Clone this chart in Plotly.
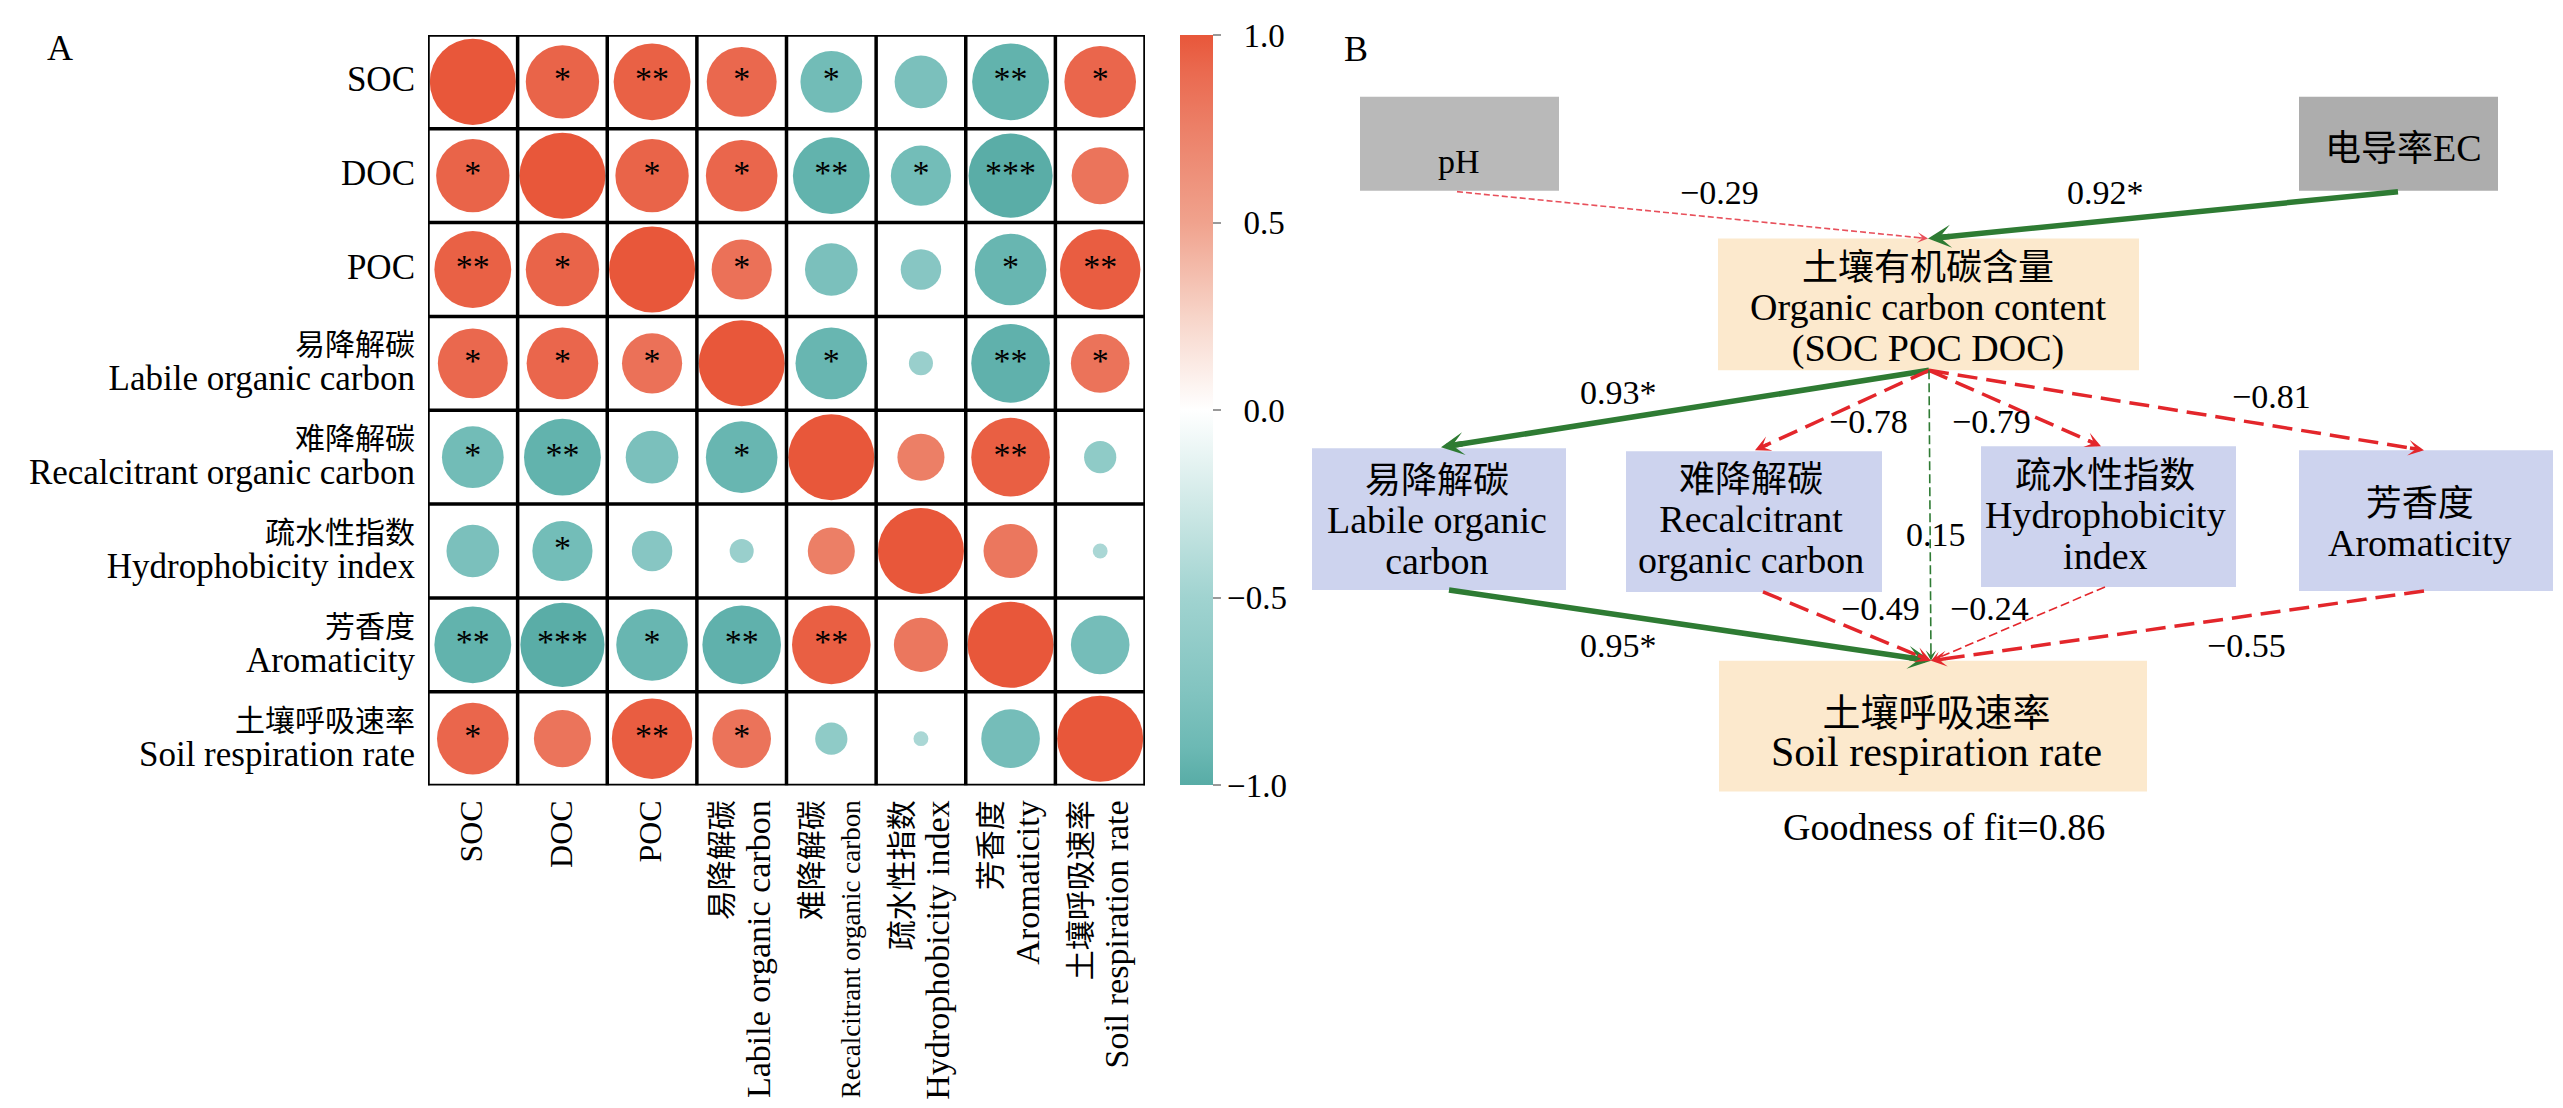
import plotly.graph_objects as go

# ---------------- data: correlation matrix (panel A) ----------------
var_cn = ["", "", "", "易降解碳", "难降解碳", "疏水性指数", "芳香度", "土壤呼吸速率"]
var_en = ["SOC", "DOC", "POC", "Labile organic carbon", "Recalcitrant organic carbon",
          "Hydrophobicity index", "Aromaticity", "Soil respiration rate"]

corr_soc = [1.00, 0.93, 0.95, 0.91, -0.86, -0.80, -0.95, 0.92]
corr_doc = [0.93, 1.00, 0.93, 0.92, -0.95, -0.85, -0.99, 0.83]
corr_poc = [0.95, 0.93, 1.00, 0.85, -0.80, -0.71, -0.92, 0.97]
corr_loc = [0.91, 0.92, 0.85, 1.00, -0.92, -0.56, -0.96, 0.84]
corr_roc = [-0.86, -0.95, -0.80, -0.92, 1.00, 0.76, 0.96, -0.64]
corr_hi = [-0.80, -0.85, -0.71, -0.56, 0.76, 1.00, 0.81, -0.45]
corr_ar = [-0.95, -0.99, -0.92, -0.96, 0.96, 0.81, 1.00, -0.84]
corr_sr = [0.92, 0.83, 0.97, 0.84, -0.64, -0.45, -0.84, 1.00]

sig_soc = ["", "*", "**", "*", "*", "", "**", "*"]
sig_doc = ["*", "", "*", "*", "**", "*", "***", ""]
sig_poc = ["**", "*", "", "*", "", "", "*", "**"]
sig_loc = ["*", "*", "*", "", "*", "", "**", "*"]
sig_roc = ["*", "**", "", "*", "", "", "**", ""]
sig_hi = ["", "*", "", "", "", "", "", ""]
sig_ar = ["**", "***", "*", "**", "**", "", "", ""]
sig_sr = ["*", "", "**", "*", "", "", "", ""]

corr_rows = [corr_soc, corr_doc, corr_poc, corr_loc, corr_roc, corr_hi, corr_ar, corr_sr]
sig_rows = [sig_soc, sig_doc, sig_poc, sig_loc, sig_roc, sig_hi, sig_ar, sig_sr]

cbar_ticks = [-1.0, -0.5, 0.0, 0.5, 1.0]

# ---------------- data: path model (panel B) ----------------
path_from = ["pH", "EC", "OCC", "OCC", "OCC", "OCC", "OCC", "LOC", "ROC", "HI", "AR"]
path_to = ["OCC", "OCC", "LOC", "ROC", "HI", "AR", "SR", "SR", "SR", "SR", "SR"]
path_coef = [-0.29, 0.92, 0.93, -0.78, -0.79, -0.81, 0.15, 0.95, -0.49, -0.24, -0.55]
path_sig = ["", "*", "*", "", "", "", "", "*", "", "", ""]
goodness_of_fit = 0.86

# ---------------- layout helpers (reference pixel frame) ----------------
W, H, OFF = 2547, 1092, 8


def fx(X):
    return (X - OFF) / W


def fy(Y):
    return 1 - (Y - OFF) / H


FONT = "Liberation Serif, Noto Sans CJK SC, serif"
GRID_X0, GRID_X1, GRID_Y0, GRID_Y1 = 428, 1145, 35, 787
n = len(var_en)
cell_px = (GRID_X1 - GRID_X0) / n
max_d = 0.96 * cell_px
SIZE_EXP = 2.2

colorscale = [
    [0.0, "rgb(88,172,166)"], [0.05, "rgb(108,185,180)"], [0.125, "rgb(130,196,192)"],
    [0.25, "rgb(160,211,208)"], [0.375, "rgb(208,233,231)"], [0.5, "rgb(255,255,255)"],
    [0.625, "rgb(247,212,200)"], [0.75, "rgb(240,162,141)"], [0.875, "rgb(236,128,104)"],
    [0.95, "rgb(234,106,80)"], [1.0, "rgb(232,87,58)"],
]

fig = go.Figure()

xs, ys, rs, sizes, texts = [], [], [], [], []
for i, row in enumerate(corr_rows):
    for j, r in enumerate(row):
        xs.append(j)
        ys.append(i)
        rs.append(r)
        sizes.append(max_d * abs(r) ** SIZE_EXP)
        texts.append(sig_rows[i][j])

fig.add_trace(go.Scatter(
    x=xs, y=ys, mode="markers", xaxis="x", yaxis="y",
    marker=dict(size=sizes, color=rs, colorscale=colorscale, cmin=-1, cmax=1,
                line=dict(width=0), opacity=1,
                colorbar=dict(
                    x=fx(1180), xanchor="left", y=fy((GRID_Y0 + GRID_Y1) / 2), yanchor="middle",
                    len=GRID_Y1 - GRID_Y0 - 2, lenmode="pixels", thickness=33, thicknessmode="pixels",
                    xpad=0, ypad=0, outlinewidth=0,
                    tickvals=cbar_ticks,
                    ticktext=[("\u2212" if v < 0 else "\u2007") + f"{abs(v):.1f}" for v in cbar_ticks],
                    ticks="outside", ticklen=8, tickcolor="#999999", tickwidth=1.5,
                    tickfont=dict(family=FONT, size=33, color="black"))),
    hoverinfo="skip", showlegend=False))

fig.add_trace(go.Scatter(
    x=xs, y=ys, mode="text", text=texts, xaxis="x", yaxis="y",
    textposition="middle center", textfont=dict(family=FONT, size=34, color="black"),
    hoverinfo="skip", showlegend=False))

for k in range(n + 1):
    fig.add_shape(type="line", xref="x", yref="y", x0=k - 0.5, x1=k - 0.5, y0=-0.5, y1=n - 0.5,
                  line=dict(color="black", width=3.5))
    fig.add_shape(type="line", xref="x", yref="y", x0=-0.5, x1=n - 0.5, y0=k - 0.5, y1=k - 0.5,
                  line=dict(color="black", width=3.5))


def sp(txt, size):
    return f"<span style='font-size:{size}px'>{txt}</span>"


def ylab(cn, en):
    if cn:
        return sp(cn, 30) + "<br>" + sp(en, 35)
    return sp(en, 35)


def xlab(cn, en):
    en_size = 27 if len(en) > 22 else 34
    if cn:
        return sp(cn, 30) + "<br>" + sp(en, en_size)
    return sp(en, 32)


# ---------------- panel B ----------------
GREEN = "#2E7B33"
RED = "#E3262B"

NODES = {
    "pH": dict(box=(1360, 1559, 97, 191), fill="#B9B9B9", out=(1457, 192)),
    "EC": dict(box=(2299, 2498, 97, 191), fill="#ADADAD", out=(2398, 192)),
    "OCC": dict(box=(1718, 2139, 239, 371), fill="#FCE9CD", inn=(1928, 239), out=(1929, 371)),
    "LOC": dict(box=(1312, 1566, 449, 591), fill="#CDD3EE", inn=(1441, 448), out=(1449, 591)),
    "ROC": dict(box=(1626, 1882, 452, 593), fill="#CDD3EE", inn=(1755, 451), out=(1763, 593)),
    "HI": dict(box=(1981, 2236, 447, 588), fill="#CDD3EE", inn=(2101, 447), out=(2105, 588)),
    "AR": dict(box=(2299, 2553, 451, 592), fill="#CDD3EE", inn=(2424, 451), out=(2424, 592)),
    "SR": dict(box=(1719, 2147, 662, 793), fill="#FCE9CD", inn=(1931, 662)),
}
# (center x, center y, line-spacing base size, [(text, size), ...])
NODE_TEXT = {
    "pH": (1459, 162, 34, [("pH", 34)]),
    "EC": (2403, 148, 36, [(sp("电导率", 36) + sp("EC", 38), 36)]),
    "OCC": (1928, 310, 31, [("土壤有机碳含量", 36), ("Organic carbon content", 38),
                            ("(SOC POC DOC)", 38)]),
    "LOC": (1437, 522, 31, [("易降解碳", 36), ("Labile organic", 38), ("carbon", 38)]),
    "ROC": (1751, 521, 31, [("难降解碳", 36), ("Recalcitrant", 38), ("organic carbon", 38)]),
    "HI": (2105, 517, 31, [("疏水性指数", 36), ("Hydrophobicity", 38), ("index", 38)]),
    "AR": (2420, 525, 31, [("芳香度", 36), ("Aromaticity", 38)]),
    "SR": (1936, 735, 31, [("土壤呼吸速率", 38), ("Soil respiration rate", 42)]),
}
EDGE_LABEL_XY = [(1719, 193), (2105, 193), (1618, 393), (1868, 422), (1991, 422), (2271, 397),
                 (1936, 535), (1618, 647), (1880, 610), (1989, 610), (2246, 647)]

for name, nd in NODES.items():
    x0, x1, y0, y1 = nd["box"]
    fig.add_shape(type="rect", xref="x2", yref="y2", x0=x0, x1=x1, y0=y0, y1=y1,
                  fillcolor=nd["fill"], line=dict(width=0), layer="below")
    cx, cy, base, lines = NODE_TEXT[name]
    txt = "<br>".join(sp(t, s) if not t.startswith("<span") else t for t, s in lines)
    fig.add_annotation(xref="x2", yref="y2", x=cx, y=cy, text=txt, showarrow=False,
                       xanchor="center", yanchor="middle", align="center",
                       font=dict(family=FONT, size=base, color="black"))


def edge_style(c, s, src):
    color = GREEN if c > 0 else RED
    if s:
        return color, 5.5, "solid", 0.7
    if abs(c) >= 0.45:
        return color, 3.5, "20px,9px", 0.75
    if src == "pH":
        return "#E8505B", 1.6, "6px,3px", 1.1
    return color, 1.6, "9px,4px", 1.1


for k, (src, dst, c, s) in enumerate(zip(path_from, path_to, path_coef, path_sig)):
    sx, sy = NODES[src]["out"]
    ex, ey = NODES[dst]["inn"]
    color, width, dash, asz = edge_style(c, s, src)
    dx, dy = ex - sx, ey - sy
    L = (dx * dx + dy * dy) ** 0.5
    ux, uy = dx / L, dy / L
    head = 6 * width * asz
    fig.add_trace(go.Scatter(x=[sx, ex - ux * head * 0.6], y=[sy, ey - uy * head * 0.6],
                             mode="lines", xaxis="x2", yaxis="y2",
                             line=dict(color=color, width=width, dash=dash),
                             hoverinfo="skip", showlegend=False))
    fig.add_annotation(xref="x2", yref="y2", axref="x2", ayref="y2",
                       x=ex, y=ey, ax=ex - ux * head, ay=ey - uy * head,
                       showarrow=True, arrowhead=3, arrowsize=asz, arrowwidth=width,
                       arrowcolor=color, text="")
    lx, ly = EDGE_LABEL_XY[k]
    label = (("\u2212" if c < 0 else "") + f"{abs(c):.2f}" + s)
    fig.add_annotation(xref="x2", yref="y2", x=lx, y=ly, text=label, showarrow=False,
                       xanchor="center", yanchor="middle",
                       font=dict(family=FONT, size=34, color="black"))

fig.add_annotation(xref="x2", yref="y2", x=1944, y=828, text=f"Goodness of fit={goodness_of_fit:.2f}",
                   showarrow=False, xanchor="center", yanchor="middle",
                   font=dict(family=FONT, size=38, color="black"))

fig.add_annotation(xref="paper", yref="paper", x=fx(60), y=fy(48), text="A", showarrow=False,
                   xanchor="center", yanchor="middle", font=dict(family=FONT, size=36, color="black"))
fig.add_annotation(xref="paper", yref="paper", x=fx(1356), y=fy(49), text="B", showarrow=False,
                   xanchor="center", yanchor="middle", font=dict(family=FONT, size=36, color="black"))

fig.update_layout(
    width=W, height=H, margin=dict(l=0, r=0, t=0, b=0),
    paper_bgcolor="white", plot_bgcolor="rgba(0,0,0,0)",
    font=dict(family=FONT, color="black"),
    xaxis=dict(domain=[fx(GRID_X0), fx(GRID_X1)], range=[-0.5, n - 0.5], anchor="y",
               tickvals=list(range(n)), ticktext=[xlab(c, e) for c, e in zip(var_cn, var_en)],
               tickangle=-90, showgrid=False, zeroline=False, showline=False, ticks="",
               tickfont=dict(family=FONT, size=29, color="black"), ticklabelstandoff=8),
    yaxis=dict(domain=[fy(GRID_Y1), fy(GRID_Y0)], range=[n - 0.5, -0.5], anchor="x",
               tickvals=list(range(n)), ticktext=[ylab(c, e) for c, e in zip(var_cn, var_en)],
               showgrid=False, zeroline=False, showline=False, ticks="",
               tickfont=dict(family=FONT, size=27, color="black"), ticklabelstandoff=12),
    xaxis2=dict(domain=[0, 1], range=[OFF, OFF + W], anchor="y2", visible=False, fixedrange=True),
    yaxis2=dict(domain=[0, 1], range=[OFF + H, OFF], anchor="x2", visible=False, fixedrange=True),
)

fig.write_html("out.html")
